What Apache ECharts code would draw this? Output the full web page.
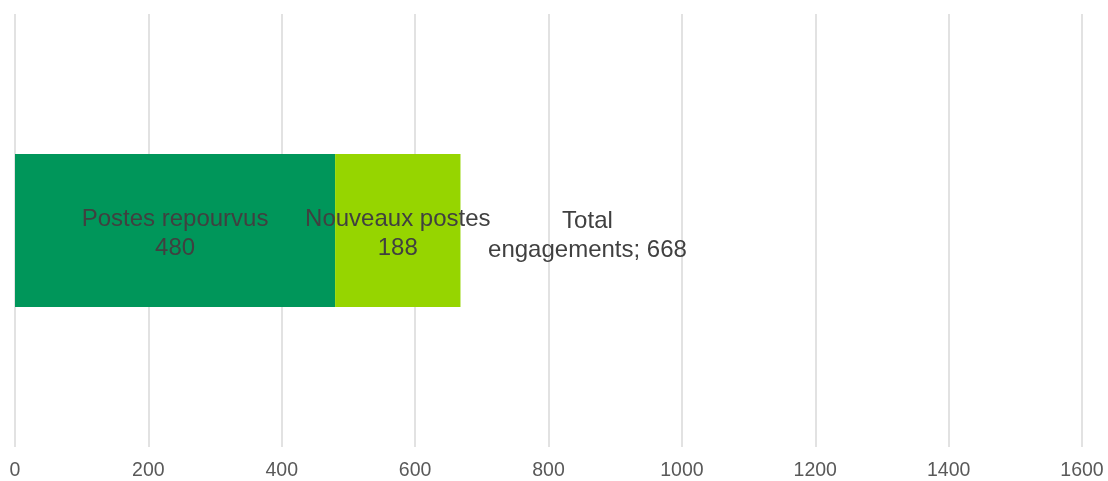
<!DOCTYPE html>
<html><head><meta charset="utf-8">
<script src="https://cdn.jsdelivr.net/npm/echarts@6/dist/echarts.min.js"></script>
<style>html,body{margin:0;padding:0;background:#fff}#c{width:1108px;height:481px}</style>
</head><body><div id="c"></div>
<script>
const categories = ['Engagements'];
const postesRepourvus = [480];
const nouveauxPostes = [188];
const totalEngagements = [668];
const seriesNames = ['Postes repourvus', 'Nouveaux postes', 'Total engagements'];

const chart = echarts.init(document.getElementById('c'), null, {renderer: 'canvas'});
const font = "'Liberation Sans', Arial, sans-serif";
const lbl = {color: '#404040', fontSize: 24, fontFamily: font, lineHeight: 29, textBorderWidth: 0, opacity: 1};
chart.setOption({
  animation: false,
  grid: {left: 15, right: 26, top: 14, bottom: 33},
  xAxis: {
    type: 'value', min: 0, max: 1600, interval: 200,
    axisLine: {show: false}, axisTick: {show: false},
    splitLine: {lineStyle: {color: '#d9d9d9', width: 1.5}},
    axisLabel: {color: '#595959', fontSize: 19.5, fontFamily: font, margin: 14, formatter: v => String(v)}
  },
  yAxis: {
    type: 'category', data: categories,
    axisLine: {show: false}, axisTick: {show: false}, axisLabel: {show: false}
  },
  series: [
    {
      name: seriesNames[0], type: 'bar', stack: 's', data: postesRepourvus, barWidth: 153,
      itemStyle: {color: '#00965a'},
      label: Object.assign({show: true, position: 'inside', offset: [0, 3], formatter: p => p.seriesName + '\n' + p.value}, lbl)
    },
    {
      name: seriesNames[1], type: 'bar', stack: 's', data: nouveauxPostes, barWidth: 153,
      itemStyle: {color: '#96d500'},
      label: Object.assign({show: true, position: 'inside', offset: [0, 3], formatter: p => p.seriesName + '\n' + p.value}, lbl)
    },
    {
      name: seriesNames[2], type: 'scatter', symbolSize: 0,
      data: totalEngagements.map((v, i) => [v, categories[i]]),
      itemStyle: {color: '#404040', opacity: 1},
      label: Object.assign({show: true, position: 'inside', offset: [127, 5], formatter: p => 'Total\nengagements; ' + p.value[0]}, lbl)
    }
  ]
});
</script></body></html>
